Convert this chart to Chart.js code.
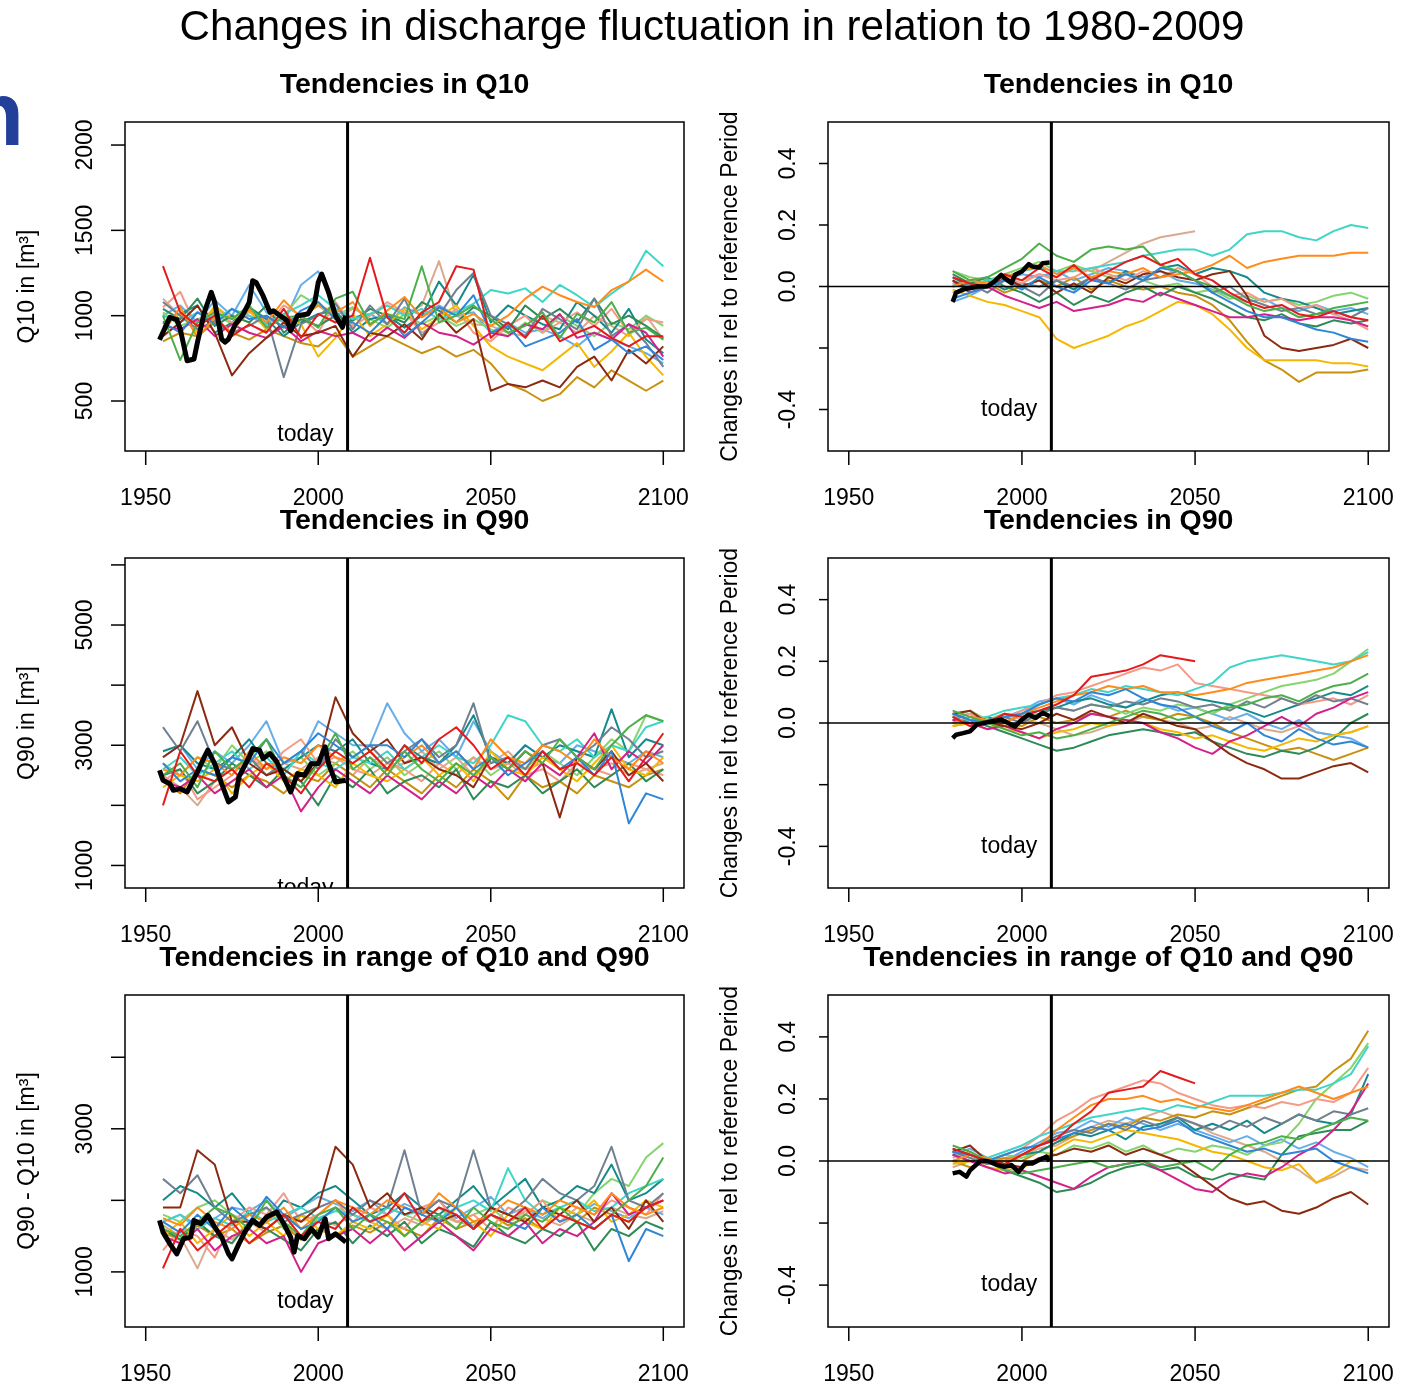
<!DOCTYPE html>
<html lang="en">
<head>
<meta charset="UTF-8">
<title>Changes in discharge fluctuation in relation to 1980-2009</title>
<script src="https://cdn.jsdelivr.net/npm/chart.js"></script>
<style>
  body { margin: 0; background: #fff; }
  #page { position: relative; width: 1411px; height: 1387px; overflow: hidden; background: #fff; }
  #page canvas { position: absolute; left: 0; top: 0; }
</style>
</head>
<body>
<div id="page"></div>
<script>
// ---- data ----
const yearsAbs = [1955,1960,1965,1970,1975,1980,1985,1990,1995,2000,2005,2010,2015,2020,2025,
                  2030,2035,2040,2045,2050,2055,2060,2065,2070,2075,2080,2085,2090,2095,2100];
const yearsRel = [1980,1985,1990,1995,2000,2005,2010,2015,2020,2025,2030,2035,2040,2045,2050,
                  2055,2060,2065,2070,2075,2080,2085,2090,2095,2100];
const todayYear = 2008.5;

const yearTicks = [1950, 2000, 2050, 2100];
const q10Ticks = [500, 1000, 1500, 2000];
const q10TickLabels = ['500', '1000', '1500', '2000'];
const q90Ticks = [1000, 2000, 3000, 4000, 5000, 6000];
const q90TickLabels = ['1000', '', '3000', '', '5000', ''];
const rangeTicks = [1000, 2000, 3000, 4000];
const rangeTickLabels = ['1000', '', '3000', ''];
const relTicks = [-0.4, -0.2, 0, 0.2, 0.4];
const relTickLabels = ['-0.4', '', '0.0', '0.2', '0.4'];

// one colour per model run (same order in every panel)
const runColors = ['#e41a1c','#4daf4a','#2f86d6','#ff8c1a','#8b2a10','#d4208a','#708090','#3fd5c8',
                   '#f5b800','#2e8b57','#f59a86','#168a8a','#86d46e','#c8900f','#66aeea','#d9ab8e'];

// observed (black) series
const obsYearsQ10 = [1954,1955,1957,1959,1960,1962,1964,1965,1967,1969,1970,1972,1973,1974,1976,1978,1980,1981,
                     1982,1984,1986,1987,1989,1991,1992,1994,1997,1999,2000,2001,2003,2005,2007,2008];
const obsQ10 = [859,902,990,977,922,736,746,844,1020,1137,1078,863,844,863,951,1000,1078,1205,
                1195,1117,1020,1029,1000,971,912,1000,1010,1078,1195,1244,1137,1000,932,1000];
const obsYearsQ90 = [1954,1955,1957,1958,1960,1962,1963,1965,1967,1968,1970,1972,1974,1976,1977,1980,1981,1983,
                     1984,1986,1988,1990,1992,1994,1996,1998,2000,2002,2003,2005,2008];
const obsQ90 = [2583,2417,2361,2250,2278,2222,2333,2556,2806,2917,2694,2361,2056,2139,2472,2806,2944,2917,
                2778,2861,2722,2472,2222,2528,2500,2694,2694,2972,2694,2389,2417];
const obsYearsRange = [1954,1955,1957,1959,1961,1963,1964,1966,1968,1970,1972,1974,1975,1977,1979,1981,1983,1985,
                       1988,1990,1992,1993,1994,1996,1998,2000,2002,2003,2005,2008];
const obsRange = [1720,1556,1392,1252,1463,1486,1720,1673,1790,1626,1486,1252,1182,1392,1579,1720,1650,1766,
                  1836,1673,1486,1276,1509,1463,1603,1486,1743,1463,1533,1416];
const obsYearsRelQ10 = [1980,1981,1983,1985,1987,1990,1992,1994,1995,1997,1998,2000,2002,2003,2005,2006,2008];
const obsRelQ10 = [-0.05,-0.02,-0.01,-0.005,0,0,0.016,0.038,0.027,0.011,0.038,0.049,0.073,0.065,0.062,0.076,0.078];
const obsYearsRelQ90 = [1980,1981,1983,1985,1987,1989,1991,1994,1996,1998,2000,2002,2004,2006,2008];
const obsRelQ90 = [-0.049,-0.038,-0.033,-0.027,-0.005,0,0.005,0.011,0,-0.011,0.011,0.027,0.016,0.033,0.022];
const obsYearsRelRange = [1980,1982,1984,1985,1988,1990,1993,1995,1997,1999,2001,2003,2005,2007,2008];
const obsRelRange = [-0.04,-0.035,-0.05,-0.03,0,0,-0.013,-0.019,-0.013,-0.035,-0.008,-0.008,0.003,0.014,0];

// model runs, Q10 [m3]
const q10Runs = [
  [1290,1020,940,1000,880,950,900,1040,870,1010,960,1000,1340,990,900,1020,1080,1290,1270,870,960,870,1000,850,900,940,870,820,880,880],
  [1000,740,960,1020,980,1060,930,990,1000,930,1100,1140,950,1010,980,1290,960,1000,1060,980,900,940,1020,870,1010,960,1080,900,930,860],
  [960,900,1020,950,1040,980,1000,930,1030,1080,980,960,900,1000,880,960,1050,1000,1120,900,940,820,860,900,980,800,860,780,820,740],
  [900,1050,870,990,900,1040,960,1090,990,1060,1020,1080,940,1030,1110,990,1050,960,1010,940,1000,1100,1170,1120,1080,1050,1150,1200,1270,1200],
  [880,960,1060,900,650,780,870,960,880,900,940,760,900,880,950,860,1010,900,980,560,600,580,620,580,700,760,620,800,720,820],
  [940,920,980,880,950,900,870,940,850,910,880,900,850,930,870,960,900,880,830,900,880,950,920,1010,870,900,860,950,900,760],
  [1080,1000,920,970,900,940,1000,640,950,1000,1070,920,1060,950,1100,880,1000,1150,1250,1000,950,880,1040,980,920,1100,880,950,840,700],
  [1000,960,1020,980,1040,1000,950,1010,1060,1120,1040,980,1010,1060,1000,1040,980,1020,1070,1150,1130,1160,1080,1180,1120,1050,1130,1200,1380,1290],
  [950,1010,900,1060,980,1030,920,1000,950,760,870,1010,880,950,1040,920,990,1060,940,820,760,720,680,760,840,700,790,900,760,650],
  [1040,980,1100,940,1000,960,1060,900,980,940,1000,970,1040,1000,960,1080,1030,960,1050,1000,920,1060,980,1040,960,1100,950,1000,940,870],
  [1050,1140,920,1030,960,1000,940,1060,1000,900,1080,940,1000,1080,1020,900,960,1040,900,850,940,1000,900,960,1020,940,1040,900,980,960],
  [960,1010,1060,900,960,1050,980,880,960,1010,1030,900,980,1000,930,1000,1200,1060,1240,960,1060,1000,950,920,1080,1000,900,1040,860,780],
  [1020,940,980,1010,950,1040,960,1000,1120,1060,1000,1050,980,930,1010,950,1000,940,980,920,880,960,900,1000,940,880,960,920,1000,940],
  [850,900,880,960,900,860,920,880,840,820,900,760,820,880,830,780,820,760,800,720,600,560,500,540,640,580,680,620,560,620],
  [1000,1060,960,1090,1000,1180,1020,960,1180,1260,1040,990,1010,950,1050,1000,1060,1000,1020,900,960,900,920,880,820,900,860,820,780,720],
  [1100,1000,960,1040,990,1020,980,940,1000,1060,980,1040,1000,1060,1010,1060,1320,1000,950,940,900,880,1000,960,900,1000,940,880,1000,860]
];

// model runs, Q90 [m3]
const q90Runs = [
  [2000,2900,2500,2400,2600,2300,2700,2500,2200,2600,2900,2700,2900,2600,3000,2700,3100,3300,3000,2600,2800,2500,2900,2600,2700,2500,2800,2400,2800,3200],
  [2500,2700,2300,2900,2600,2800,3100,2500,2300,2700,3200,2600,2800,2500,2900,2600,2400,2700,2500,2800,2600,2900,2700,3100,2800,2600,3000,3300,3500,3400],
  [2700,2400,2600,2500,2800,2700,3100,2700,2900,3200,3000,2800,3000,3000,2800,3100,2700,2900,2600,2800,2500,2700,2900,2600,2800,2500,2900,1700,2200,2100],
  [2600,2500,2800,2700,2500,2900,2600,2800,2700,3000,2800,2700,2900,2600,2800,3000,2700,2900,2600,3100,2800,2700,3000,2900,2700,3100,2800,2600,2900,2700],
  [2800,3000,3900,3000,3300,2700,2500,2600,2400,2700,3800,3200,2900,3100,2700,2800,2600,2500,2300,2800,2600,2900,2700,1800,2800,2600,2900,2500,2700,2400],
  [2400,2300,2500,2200,2400,2600,2300,2500,1900,2300,2600,2400,2200,2500,2300,2100,2400,2200,2500,2300,2600,2400,2700,2500,2800,3200,2600,2900,2700,3000],
  [3300,2900,3400,2700,2600,2800,2500,2700,2900,2600,3100,2800,3000,2700,2900,3100,2800,3000,3700,2700,2800,2600,3000,3100,2800,3000,3300,3100,2800,2900],
  [2600,2800,2500,2700,2900,2600,2800,2500,2900,2700,2600,2800,2700,2900,2600,2800,3000,2800,2700,3000,3500,3400,3000,2900,3100,2800,3000,2900,3300,3400],
  [2300,2500,2400,2600,2200,2500,2700,2400,2600,2500,2300,2700,2500,2400,2600,2800,2500,2700,2400,2900,2600,2500,2800,2600,2400,2700,3000,2600,2500,2800],
  [2500,2600,2200,2400,2700,2500,2300,2600,2400,2000,2500,2300,2600,2200,2400,2500,2300,2600,2100,2400,2300,2500,2200,2400,2600,2300,2500,2700,2400,2600],
  [2400,2600,2100,2300,2500,2800,2600,2900,3100,2700,2800,2600,2500,2700,2600,2400,2700,2500,2800,2600,2700,2500,2600,2400,2700,2600,2500,2700,2600,2500],
  [2900,3000,2700,2600,2800,3100,2700,2600,2800,3000,2900,3100,2700,2600,3000,2800,2700,3000,3500,2800,2700,3000,2800,3000,2900,2800,3600,2800,3100,3000],
  [2700,2500,2800,2600,3000,2700,2900,2600,2800,2500,2700,2900,2600,2800,2500,2700,2900,2600,2800,2500,2700,2600,2900,2700,2500,2800,3100,2900,3500,3400],
  [2400,2200,2600,2500,2300,2500,2400,2200,2500,2400,2700,2500,2300,2600,2400,2200,2500,2300,2600,2400,2100,2500,2300,2400,2200,2500,2400,2300,2500,2600],
  [2800,3000,2600,2900,2700,3000,3400,2700,2800,3400,3200,3000,3000,3700,3200,2900,3100,2800,3400,2900,2700,3000,2800,2700,3000,2900,2800,2700,2900,2800],
  [2500,2300,2000,2400,2600,2800,2500,2700,2600,2800,2700,2500,2800,2600,2700,2900,2600,2800,2500,2700,2900,2600,2700,2500,2800,2600,2700,2500,2600,2700]
];

// model runs, Q90 - Q10 [m3]
const rangeRuns = [
  [1050,1600,1300,1500,1700,1400,1600,1800,1500,1700,1600,1900,1700,1800,2100,1700,1900,1800,1600,1800,1700,1900,1600,1800,1700,1600,1800,1700,1900,2000],
  [1600,1500,1700,1900,1800,1600,2000,1700,1500,1800,1900,1600,1800,1700,1500,1700,1800,1600,1900,1700,1600,1800,1700,1900,1700,1600,1800,2000,2200,2600],
  [1700,1550,1800,1600,1900,1700,2050,1800,1600,1700,1900,1700,1800,1600,1900,1800,1700,1900,1600,1800,1700,1600,1900,1700,1800,1600,1800,1150,1600,1500],
  [1750,1650,1900,1700,1600,1800,1700,1900,1600,1800,2000,1900,1800,2000,1900,1800,2100,1900,1700,1800,2000,1900,1800,2000,1900,1800,2100,1900,1800,1900],
  [1900,1900,2700,2500,1700,1700,1600,1800,1700,1900,2750,2500,1900,2100,1800,1900,1700,1800,1600,1900,1800,1700,1900,1800,2000,1700,1900,1600,2000,1700],
  [1500,1400,1600,1300,1500,1600,1400,1500,1000,1400,1500,1600,1400,1600,1300,1500,1700,1500,1300,1600,1500,1700,1400,1600,1500,1700,2100,1800,1900,2000],
  [2300,2100,2350,1900,1700,1800,1900,1700,1800,1900,2000,1800,2000,1900,2700,1800,2000,1900,2700,1900,1800,2000,2300,2100,2000,2200,2750,2000,1900,2100],
  [1700,1800,1600,1750,1650,1850,1700,1800,1900,1750,1850,1800,1700,1900,1800,1850,1750,1900,2000,1850,2450,2000,1800,1900,2000,1850,1900,2100,2200,2300],
  [1500,1700,1400,1600,1800,1500,1700,1500,1800,1600,1500,1700,1600,1800,1500,1700,1600,1900,1700,1500,1800,1700,1600,1900,1800,2000,1700,1800,2000,1900],
  [1600,1450,1700,1500,1400,1700,1600,1450,1300,1600,1700,1400,1650,1500,1700,1400,1600,1500,1350,1700,1500,1400,1600,1500,1700,1300,1600,1500,1700,1600],
  [1300,1600,1500,1200,1700,1900,1800,2100,1700,1800,2000,1700,1900,1800,1600,1900,2000,1700,1800,1600,1900,1800,2000,1700,1900,1800,2000,1900,1800,2100],
  [2000,2200,2100,1900,2100,1800,1700,2000,1900,2100,2200,2000,1800,1900,2100,1900,1800,2000,2200,1900,2100,2300,1900,2000,2200,2100,2500,2000,2100,2300],
  [1800,1700,1900,2000,1800,1700,1900,1600,1800,1700,1900,1800,1700,1900,1800,1700,1900,1700,1800,1900,1700,1800,2000,1900,1800,2100,2300,2200,2600,2800],
  [1550,1450,1650,1500,1600,1400,1550,1650,1450,1600,1500,1650,1550,1700,1600,1500,1750,1600,1700,1800,1650,1750,1600,1800,1700,1900,1800,1700,1900,2000],
  [1700,1800,1650,1750,1900,1850,2000,1750,1900,2050,1950,1850,2000,1800,1950,1850,2000,1750,1900,2050,1800,1900,1750,1900,1800,1950,1850,1750,1900,1800],
  [1650,1500,1050,1600,1450,1700,1550,1650,1500,1750,1650,1800,1700,1600,1750,1650,1800,1700,1650,1800,1700,1850,1750,1650,1800,1700,1900,1800,1750,1850]
];

// model runs, relative change of Q10
const relQ10Runs = [
  [0.03,0.01,0.0,0.04,0.02,0.06,0.03,0.07,0.02,0.05,0.08,0.1,0.07,0.09,0.04,0.02,-0.02,-0.05,-0.07,-0.06,-0.09,-0.1,-0.08,-0.1,-0.11],
  [0.05,0.02,0.03,0.06,0.09,0.14,0.1,0.08,0.12,0.13,0.12,0.13,0.07,0.05,0.02,0.0,-0.03,-0.06,-0.08,-0.07,-0.1,-0.09,-0.07,-0.06,-0.05],
  [-0.04,-0.02,0.0,0.02,-0.01,0.03,0.0,-0.02,0.02,0.01,0.04,0.02,0.06,0.05,0.02,-0.02,-0.05,-0.08,-0.1,-0.1,-0.12,-0.14,-0.15,-0.17,-0.18],
  [0.0,0.02,0.01,0.03,0.05,0.07,0.04,0.06,0.03,0.05,0.04,0.06,0.03,0.04,0.05,0.07,0.1,0.06,0.08,0.09,0.1,0.1,0.1,0.11,0.11],
  [0.02,-0.01,0.0,0.03,0.0,0.02,-0.02,0.01,-0.02,0.03,0.01,0.04,0.05,0.03,0.02,0.04,0.05,-0.03,-0.16,-0.2,-0.21,-0.2,-0.19,-0.17,-0.2],
  [0.02,-0.02,0.0,-0.03,-0.05,-0.07,-0.05,-0.08,-0.07,-0.06,-0.04,-0.05,-0.02,-0.04,-0.06,-0.08,-0.1,-0.1,-0.09,-0.1,-0.11,-0.1,-0.1,-0.11,-0.13],
  [0.0,0.01,-0.02,0.02,0.0,-0.03,0.02,0.0,0.03,0.01,-0.01,0.02,0.03,0.05,0.02,-0.02,0.0,-0.04,-0.06,-0.08,-0.07,-0.09,-0.08,-0.1,-0.07],
  [0.01,0.0,0.02,0.03,0.05,0.06,0.05,0.05,0.06,0.07,0.08,0.1,0.11,0.12,0.12,0.1,0.12,0.17,0.18,0.18,0.16,0.15,0.18,0.2,0.19],
  [-0.01,-0.03,-0.05,-0.06,-0.08,-0.1,-0.17,-0.2,-0.18,-0.16,-0.13,-0.11,-0.08,-0.05,-0.06,-0.09,-0.14,-0.2,-0.24,-0.24,-0.24,-0.24,-0.25,-0.25,-0.26],
  [0.04,0.01,0.03,0.0,-0.02,-0.05,-0.02,-0.06,-0.03,-0.05,-0.02,0.0,-0.03,0.0,-0.02,-0.04,-0.07,-0.1,-0.11,-0.09,-0.12,-0.13,-0.11,-0.12,-0.11],
  [0.0,0.02,0.0,0.03,0.01,0.04,0.02,0.03,0.06,0.04,0.02,0.05,0.03,0.06,0.04,0.0,-0.03,-0.02,-0.05,-0.04,-0.07,-0.06,-0.09,-0.11,-0.14],
  [0.03,0.0,0.02,-0.01,0.01,0.0,0.02,-0.01,0.03,0.01,0.05,0.02,0.06,0.07,0.04,0.06,0.05,0.03,-0.02,-0.04,-0.05,-0.07,-0.09,-0.08,-0.07],
  [0.05,0.03,0.02,0.04,0.06,0.08,0.05,0.07,0.05,0.03,0.04,0.02,0.0,0.01,-0.02,-0.01,-0.04,-0.03,-0.05,-0.04,-0.06,-0.05,-0.03,-0.02,-0.04],
  [-0.02,0.0,0.01,-0.02,0.0,0.02,0.0,0.03,-0.01,0.02,0.0,-0.01,0.0,-0.02,-0.03,-0.06,-0.11,-0.18,-0.24,-0.27,-0.31,-0.28,-0.28,-0.28,-0.27],
  [-0.05,-0.03,0.0,0.02,0.04,0.03,0.05,0.02,0.04,0.06,0.05,0.03,0.05,0.02,0.01,-0.01,-0.03,-0.05,-0.04,-0.07,-0.08,-0.06,-0.08,-0.07,-0.09],
  [0.01,0.02,0.0,0.03,0.02,0.04,0.03,0.06,0.05,0.08,0.11,0.14,0.16,0.17,0.18,null,null,null,null,null,null,null,null,null,null]
];

// model runs, relative change of Q90
const relQ90Runs = [
  [0.02,-0.01,0.0,0.03,0.02,0.04,0.06,0.09,0.15,0.16,0.17,0.19,0.22,0.21,0.2,null,null,null,null,null,null,null,null,null,null],
  [0.04,0.02,0.0,-0.02,-0.04,-0.03,-0.05,-0.04,-0.02,0.0,0.02,0.04,0.03,0.01,0.02,0.04,0.05,0.06,0.08,0.09,0.07,0.1,0.12,0.13,0.16],
  [0.03,0.01,0.0,0.02,0.03,0.06,0.08,0.07,0.1,0.09,0.11,0.08,0.06,0.05,0.02,-0.01,-0.03,0.0,-0.04,-0.06,-0.02,-0.05,-0.07,-0.06,-0.08],
  [0.0,0.02,0.01,0.0,0.03,0.05,0.07,0.09,0.1,0.12,0.11,0.12,0.1,0.1,0.09,0.1,0.11,0.13,0.14,0.15,0.16,0.17,0.18,0.2,0.22],
  [0.03,0.04,0.0,-0.01,-0.02,0.0,0.03,0.01,0.04,0.02,0.0,0.03,0.01,-0.01,-0.02,-0.06,-0.1,-0.13,-0.15,-0.18,-0.18,-0.16,-0.14,-0.13,-0.16],
  [0.01,0.0,-0.02,-0.01,-0.03,-0.05,-0.02,0.0,0.03,0.02,0.01,0.0,-0.03,-0.05,-0.08,-0.1,-0.06,-0.04,-0.01,0.02,-0.01,0.03,0.05,0.08,0.1],
  [0.02,0.0,0.01,0.02,0.0,0.03,0.05,0.04,0.06,0.05,0.07,0.06,0.08,0.07,0.05,0.06,0.04,0.07,0.05,0.08,0.06,0.09,0.07,0.08,0.06],
  [0.0,0.01,0.02,0.04,0.05,0.06,0.08,0.09,0.11,0.1,0.12,0.11,0.1,0.09,0.11,0.13,0.18,0.2,0.21,0.22,0.21,0.2,0.19,0.2,0.23],
  [-0.01,0.0,0.01,-0.02,-0.03,-0.05,-0.03,-0.02,0.0,-0.01,0.01,0.0,-0.02,-0.03,-0.05,-0.04,-0.06,-0.08,-0.09,-0.07,-0.05,-0.06,-0.04,-0.03,-0.01],
  [0.03,0.01,-0.01,-0.03,-0.05,-0.07,-0.09,-0.08,-0.06,-0.04,-0.03,-0.02,-0.03,-0.04,-0.03,-0.06,-0.08,-0.1,-0.11,-0.09,-0.1,-0.08,-0.05,0.0,0.03],
  [0.02,0.03,0.0,0.01,0.04,0.06,0.09,0.1,0.12,0.14,0.16,0.18,0.17,0.19,0.13,0.12,0.11,0.1,0.09,0.08,0.06,0.07,0.08,0.06,0.09],
  [0.01,0.0,0.02,0.0,0.03,0.04,0.05,0.07,0.08,0.06,0.05,0.07,0.09,0.1,0.08,0.07,0.06,0.04,0.02,0.04,0.06,0.08,0.1,0.09,0.12],
  [0.02,0.04,0.01,0.03,0.02,0.03,0.05,0.04,0.06,0.05,0.03,0.05,0.04,0.06,0.05,0.03,0.06,0.08,0.1,0.12,0.13,0.14,0.16,0.2,0.24],
  [-0.01,0.0,-0.02,0.0,-0.01,0.02,0.0,0.01,0.03,0.02,0.04,0.02,0.01,0.03,0.02,0.0,-0.03,-0.05,-0.07,-0.09,-0.08,-0.1,-0.12,-0.1,-0.08],
  [0.01,0.03,0.0,0.02,0.04,0.07,0.08,0.06,0.09,0.07,0.05,0.08,0.06,0.04,0.05,0.03,0.01,0.03,0.0,-0.02,0.01,-0.03,-0.04,-0.05,-0.08],
  [0.0,0.02,0.01,0.03,0.01,0.0,-0.02,-0.04,-0.03,-0.01,0.0,0.02,0.01,0.0,-0.02,-0.01,0.02,0.0,-0.02,-0.03,-0.01,-0.03,-0.04,-0.03,-0.01]
];

// model runs, relative change of the range Q90 - Q10
const relRangeRuns = [
  [0.04,0.02,0.0,-0.01,0.02,0.05,0.07,0.12,0.16,0.22,0.23,0.24,0.29,0.27,0.25,null,null,null,null,null,null,null,null,null,null],
  [0.05,0.03,0.0,-0.03,-0.04,-0.03,-0.02,-0.01,0.0,-0.02,-0.01,0.0,-0.02,-0.01,0.0,-0.03,0.02,0.05,0.06,0.08,0.07,0.1,0.12,0.14,0.13],
  [0.03,0.02,0.0,0.02,0.04,0.05,0.07,0.09,0.11,0.1,0.12,0.1,0.11,0.13,0.09,0.07,0.05,0.03,0.04,0.02,0.03,0.04,0.0,-0.02,-0.04],
  [0.0,0.02,0.01,0.0,0.02,0.05,0.1,0.14,0.18,0.2,0.2,0.21,0.19,0.2,0.18,0.17,0.16,0.18,0.2,0.22,0.24,0.22,0.2,0.22,0.24],
  [0.03,0.05,0.0,-0.01,-0.02,0.01,0.02,0.04,0.03,0.05,0.02,0.04,0.02,0.0,-0.04,-0.08,-0.12,-0.14,-0.13,-0.16,-0.17,-0.15,-0.12,-0.1,-0.14],
  [0.02,0.0,-0.02,-0.04,-0.03,-0.05,-0.07,-0.09,-0.05,-0.02,-0.01,0.0,-0.03,-0.06,-0.09,-0.1,-0.06,-0.04,-0.05,-0.02,0.02,0.05,0.1,0.16,0.25],
  [0.03,0.01,-0.01,0.0,0.02,0.05,0.08,0.1,0.09,0.12,0.1,0.13,0.11,0.14,0.12,0.1,0.13,0.11,0.14,0.12,0.15,0.13,0.16,0.15,0.17],
  [0.0,0.02,0.01,0.03,0.05,0.08,0.1,0.12,0.14,0.15,0.16,0.17,0.16,0.18,0.17,0.19,0.21,0.21,0.21,0.22,0.23,0.23,0.25,0.28,0.37],
  [-0.01,0.0,-0.02,-0.03,-0.02,0.0,0.04,0.07,0.06,0.08,0.1,0.09,0.08,0.07,0.05,0.03,0.02,0.0,-0.02,-0.03,-0.01,-0.07,-0.04,0.0,0.0],
  [0.04,0.02,0.0,-0.03,-0.05,-0.07,-0.1,-0.09,-0.07,-0.04,-0.02,-0.01,-0.03,-0.02,-0.05,-0.06,-0.04,-0.05,-0.06,0.02,0.08,0.09,0.1,0.1,0.13],
  [0.01,0.03,0.0,0.02,0.04,0.08,0.13,0.16,0.2,0.22,0.24,0.26,0.25,0.22,0.2,0.18,0.17,0.18,0.17,0.19,0.18,0.2,0.19,0.22,0.3],
  [0.02,0.0,0.01,-0.01,0.02,0.03,0.06,0.09,0.08,0.1,0.07,0.11,0.12,0.14,0.1,0.12,0.1,0.13,0.09,0.12,0.15,0.13,0.12,0.15,0.28],
  [0.03,0.01,0.0,0.02,0.01,0.03,0.02,0.05,0.04,0.06,0.03,0.05,0.02,0.04,0.03,0.05,0.04,0.02,0.05,0.06,0.12,0.2,0.25,0.3,0.38],
  [0.0,-0.02,0.0,0.01,0.0,0.03,0.06,0.08,0.1,0.12,0.11,0.14,0.13,0.15,0.14,0.16,0.15,0.17,0.19,0.21,0.23,0.24,0.29,0.33,0.42],
  [0.02,0.04,0.01,0.0,0.03,0.06,0.09,0.1,0.13,0.11,0.14,0.12,0.1,0.12,0.1,0.08,0.06,0.08,0.05,0.07,0.04,0.06,0.03,0.01,-0.02],
  [-0.02,0.0,-0.01,0.01,0.02,0.04,0.05,0.08,0.11,0.13,0.12,0.14,0.16,0.14,0.12,0.09,0.07,0.05,0.03,0.0,-0.03,-0.07,-0.05,-0.02,-0.03]
];

// ---- layout ----
const W = 1411, H = 1387;
const FONT = '"Liberation Sans", Arial, Helvetica, sans-serif';
const mainTitle = 'Changes in discharge fluctuation in relation to 1980-2009';

const panels = [
  { box: {l: 125, t: 122, r: 684, b: 451}, yMin: 207, yMax: 2135, ticks: q10Ticks, labels: q10TickLabels,
    title: 'Tendencies in Q10', yTitle: 'Q10 in [m\u00b3]', years: yearsAbs, runs: q10Runs,
    obsYears: obsYearsQ10, obs: obsQ10, todayY: 300, rel: false },
  { box: {l: 828, t: 122, r: 1389, b: 451}, yMin: -0.535, yMax: 0.535, ticks: relTicks, labels: relTickLabels,
    title: 'Tendencies in Q10', yTitle: 'Changes in rel to reference Period', years: yearsRel, runs: relQ10Runs,
    obsYears: obsYearsRelQ10, obs: obsRelQ10, todayY: -0.4, rel: true },
  { box: {l: 125, t: 558, r: 684, b: 888}, yMin: 625, yMax: 6115, ticks: q90Ticks, labels: q90TickLabels,
    title: 'Tendencies in Q90', yTitle: 'Q90 in [m\u00b3]', years: yearsAbs, runs: q90Runs,
    obsYears: obsYearsQ90, obs: obsQ90, todayY: 610, rel: false },
  { box: {l: 828, t: 558, r: 1389, b: 888}, yMin: -0.535, yMax: 0.535, ticks: relTicks, labels: relTickLabels,
    title: 'Tendencies in Q90', yTitle: 'Changes in rel to reference Period', years: yearsRel, runs: relQ90Runs,
    obsYears: obsYearsRelQ90, obs: obsRelQ90, todayY: -0.4, rel: true },
  { box: {l: 125, t: 995, r: 684, b: 1327}, yMin: 230, yMax: 4870, ticks: rangeTicks, labels: rangeTickLabels,
    title: 'Tendencies in range of Q10 and Q90', yTitle: 'Q90 - Q10 in [m\u00b3]', years: yearsAbs, runs: rangeRuns,
    obsYears: obsYearsRange, obs: obsRange, todayY: 590, rel: false },
  { box: {l: 828, t: 995, r: 1389, b: 1327}, yMin: -0.535, yMax: 0.535, ticks: relTicks, labels: relTickLabels,
    title: 'Tendencies in range of Q10 and Q90', yTitle: 'Changes in rel to reference Period', years: yearsRel, runs: relRangeRuns,
    obsYears: obsYearsRelRange, obs: obsRelRange, todayY: -0.4, rel: true }
];

function rotatedText(ctx, text, x, y) {
  ctx.save();
  ctx.translate(x, y);
  ctx.rotate(-Math.PI / 2);
  ctx.textAlign = 'center';
  ctx.textBaseline = 'middle';
  ctx.fillText(text, 0, 0);
  ctx.restore();
}

// R-style frame, axes and annotations around each panel
function rFrame(p) {
  return {
    id: 'rFrame',
    afterDatasetsDraw(chart) {
      const { ctx, chartArea: a, scales: { x, y } } = chart;
      ctx.save();
      ctx.beginPath();
      ctx.rect(a.left, a.top, a.right - a.left, a.bottom - a.top);
      ctx.clip();
      ctx.strokeStyle = '#000';
      if (p.rel) {
        const y0 = y.getPixelForValue(0);
        ctx.lineWidth = 1.5;
        ctx.beginPath(); ctx.moveTo(a.left, y0); ctx.lineTo(a.right, y0); ctx.stroke();
      }
      const tx = x.getPixelForValue(todayYear);
      ctx.lineWidth = 3;
      ctx.beginPath(); ctx.moveTo(tx, a.top); ctx.lineTo(tx, a.bottom); ctx.stroke();
      ctx.fillStyle = '#000';
      ctx.font = `23px ${FONT}`;
      ctx.textAlign = 'right';
      ctx.textBaseline = 'middle';
      ctx.fillText('today', tx - 14, y.getPixelForValue(p.todayY));
      ctx.restore();
    },
    afterDraw(chart) {
      const { ctx, chartArea: a, scales: { x, y } } = chart;
      ctx.save();
      ctx.strokeStyle = '#000';
      ctx.fillStyle = '#000';
      ctx.lineWidth = 1.5;
      ctx.strokeRect(a.left, a.top, a.right - a.left, a.bottom - a.top);

      // x axis
      ctx.font = `23px ${FONT}`;
      ctx.textAlign = 'center';
      ctx.textBaseline = 'middle';
      yearTicks.forEach(t => {
        const px = x.getPixelForValue(t);
        ctx.beginPath(); ctx.moveTo(px, a.bottom); ctx.lineTo(px, a.bottom + 14); ctx.stroke();
        ctx.fillText(String(t), px, a.bottom + 48);
      });

      // y axis
      const tickLen = p.rel ? 9 : 14;
      p.ticks.forEach((t, i) => {
        const py = y.getPixelForValue(t);
        ctx.beginPath(); ctx.moveTo(a.left, py); ctx.lineTo(a.left - tickLen, py); ctx.stroke();
        if (p.labels[i]) rotatedText(ctx, p.labels[i], a.left - 39, py);
      });
      rotatedText(ctx, p.yTitle, a.left - 97, (a.top + a.bottom) / 2);

      // panel title
      ctx.font = `bold 28.5px ${FONT}`;
      ctx.textAlign = 'center';
      ctx.textBaseline = 'middle';
      ctx.fillText(p.title, (a.left + a.right) / 2, a.top - 37);
      ctx.restore();
    }
  };
}

// page title and the cut-off letter at the left edge
const pageDecor = {
  id: 'pageDecor',
  afterDraw(chart) {
    const ctx = chart.ctx;
    ctx.save();
    ctx.fillStyle = '#000';
    ctx.font = `40px ${FONT}`;
    const w = ctx.measureText(mainTitle).width;
    const size = 40 * 1065 / w;
    ctx.font = `${size.toFixed(1)}px ${FONT}`;
    ctx.textAlign = 'center';
    ctx.textBaseline = 'middle';
    ctx.fillText(mainTitle, 712, 28);
    ctx.fillStyle = '#22409a';
    ctx.font = `bold 90px ${FONT}`;
    ctx.textAlign = 'right';
    ctx.textBaseline = 'alphabetic';
    ctx.fillText('n', 24, 145);
    ctx.restore();
  }
};

const page = document.getElementById('page');
panels.forEach((p, k) => {
  const canvas = document.createElement('canvas');
  canvas.width = W; canvas.height = H;
  canvas.style.width = W + 'px'; canvas.style.height = H + 'px';
  page.appendChild(canvas);

  const datasets = [{
    data: p.obsYears.map((yr, i) => ({ x: yr, y: p.obs[i] })),
    borderColor: '#000', borderWidth: p.rel ? 4.5 : 5
  }];
  p.runs.forEach((vals, j) => {
    datasets.push({
      data: p.years.map((yr, i) => ({ x: yr, y: vals[i] })),
      borderColor: runColors[j], borderWidth: 2
    });
  });

  new Chart(canvas, {
    type: 'line',
    data: { datasets },
    options: {
      responsive: false,
      animation: false,
      devicePixelRatio: 1,
      events: [],
      layout: { padding: { left: p.box.l, top: p.box.t, right: W - p.box.r, bottom: H - p.box.b } },
      elements: { point: { radius: 0 }, line: { tension: 0, fill: false, borderJoinStyle: 'round' } },
      scales: {
        x: { type: 'linear', min: 1944, max: 2106, display: false },
        y: { type: 'linear', min: p.yMin, max: p.yMax, display: false }
      },
      plugins: { legend: { display: false }, tooltip: { enabled: false }, title: { display: false } }
    },
    plugins: k === 0 ? [rFrame(p), pageDecor] : [rFrame(p)]
  });
});
</script>
</body>
</html>
